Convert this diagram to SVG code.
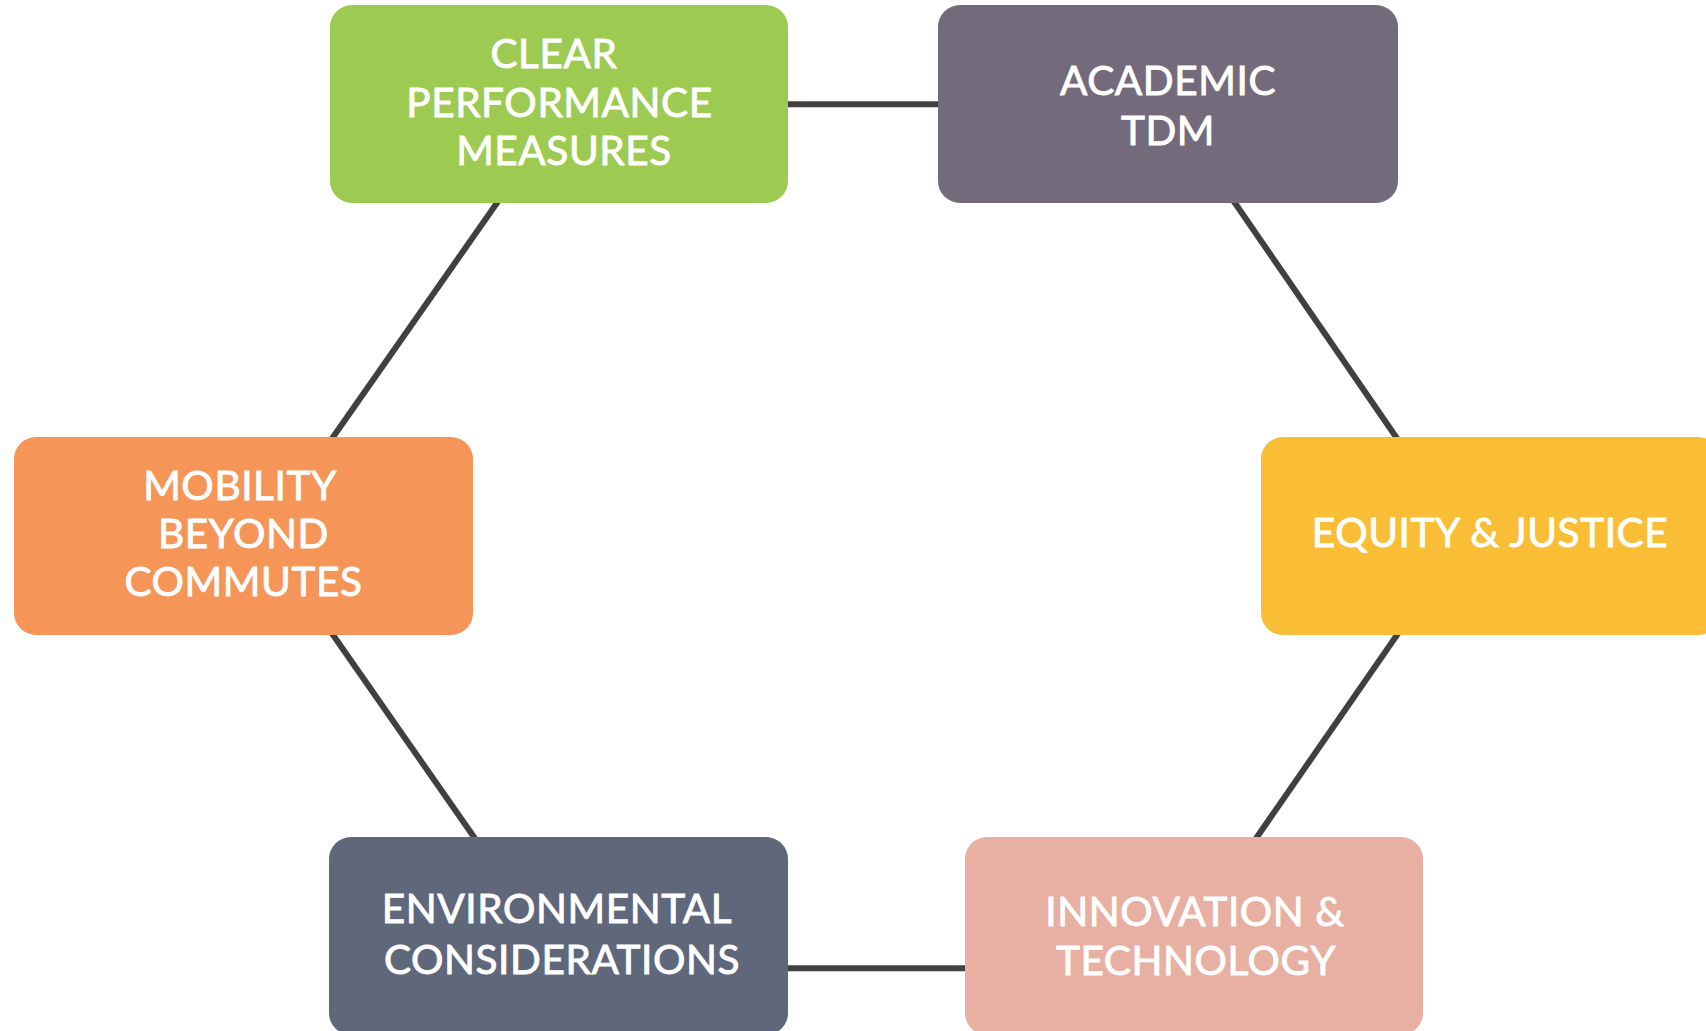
<svg xmlns="http://www.w3.org/2000/svg" width="1706" height="1031" viewBox="0 0 1706 1031">
  <style>
    .box { stroke: none; }
    .lbl { font-family: Lato, "Liberation Sans", sans-serif; font-size: 40.5px; fill: #ffffff; stroke: #ffffff; stroke-width: 0.9px; text-anchor: middle; letter-spacing: 0.6px; }
    .conn { stroke: #404040; stroke-width: 6; fill: none; }
  </style>
  <rect width="1706" height="1031" fill="#ffffff"/>
  <g id="connectors">
    <line class="conn" x1="788" y1="104.3" x2="938" y2="104.3"/>
    <line class="conn" x1="788" y1="968.3" x2="965" y2="968.3"/>
    <line class="conn" x1="506" y1="190" x2="324" y2="450"/>
    <line class="conn" x1="1226" y1="190" x2="1405" y2="450"/>
    <line class="conn" x1="324" y1="622" x2="483" y2="850"/>
    <line class="conn" x1="1406" y1="622" x2="1248" y2="850"/>
  </g>
  <g id="node-clear">
    <rect class="box" x="330" y="5" width="458" height="198" rx="22" fill="#9DCA51"/>
    <text class="lbl" x="554" y="68">CLEAR</text>
    <text class="lbl" x="559.5" y="117">PERFORMANCE</text>
    <text class="lbl" x="564" y="165">MEASURES</text>
  </g>
  <g id="node-academic">
    <rect class="box" x="938" y="5" width="460" height="198" rx="22" fill="#736A7C"/>
    <text class="lbl" x="1168" y="95">ACADEMIC</text>
    <text class="lbl" x="1168" y="145">TDM</text>
  </g>
  <g id="node-mobility">
    <rect class="box" x="14" y="437" width="459" height="198" rx="22" fill="#F69558"/>
    <text class="lbl" x="240" y="500">MOBILITY</text>
    <text class="lbl" x="243.5" y="548">BEYOND</text>
    <text class="lbl" x="243.5" y="596">COMMUTES</text>
  </g>
  <g id="node-equity">
    <rect class="box" x="1261" y="437" width="459" height="198" rx="22" fill="#F9BE35"/>
    <text class="lbl" x="1490" y="547">EQUITY &amp; JUSTICE</text>
  </g>
  <g id="node-environmental">
    <rect class="box" x="329" y="837" width="459" height="198" rx="22" fill="#5F687B"/>
    <text class="lbl" x="557" y="923">ENVIRONMENTAL</text>
    <text class="lbl" x="562" y="974">CONSIDERATIONS</text>
  </g>
  <g id="node-innovation">
    <rect class="box" x="965" y="837" width="458" height="198" rx="22" fill="#E8B0A2"/>
    <text class="lbl" x="1195" y="926">INNOVATION &amp;</text>
    <text class="lbl" x="1196" y="975">TECHNOLOGY</text>
  </g>
</svg>
